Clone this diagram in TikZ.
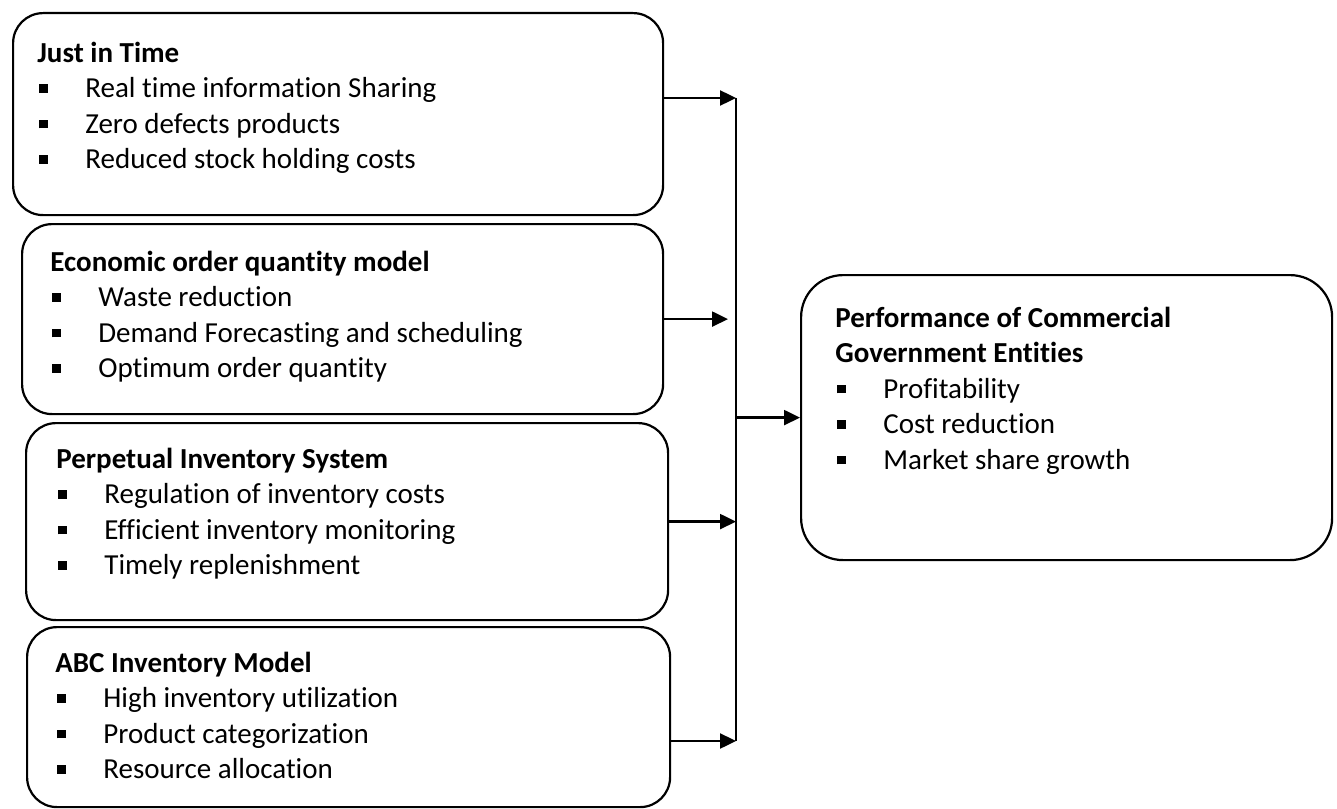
\documentclass[tikz,border=0pt]{standalone}
\usepackage{fontspec}
\setmainfont{Carlito}[Ligatures={NoCommon}]
\usetikzlibrary{arrows.meta, positioning}

% small square bullet with a fixed indent
\newcommand{\sqbullet}{\makebox[24pt][l]{\hspace{1pt}\rule[2.5pt]{4.25pt}{4.25pt}}}

\tikzset{
  box/.style={rectangle, rounded corners=15pt, draw=black, line width=1.1pt,
              anchor=north west, inner sep=0pt},
  boxtext/.style={anchor=north west, align=left, inner sep=0pt,
                  font=\fontsize{14.5pt}{17.75pt}\selectfont},
  arrow/.style={-{Triangle[length=8pt, width=7.5pt]}, line width=1.2pt},
}

\begin{document}
\begin{tikzpicture}[x=0.5pt, y=-0.5pt]
    \useasboundingbox (0,0) rectangle (1337,808);

    % factor boxes on the left
    \node[box, minimum width=325pt, minimum height=101pt] (jit) at (12,12) {};
    \node[box, minimum width=320.5pt, minimum height=95pt] (eoq) at (21,223) {};
    \node[box, minimum width=321pt, minimum height=98.5pt] (pis) at (25,422) {};
    \node[box, minimum width=321.5pt, minimum height=90pt] (abc) at (26,626) {};
    % outcome box
    \node[box, rounded corners=21pt, minimum width=265.5pt, minimum height=142.5pt] (perf) at (800,274) {};

    \node[boxtext] (jittxt) at ([xshift=12.5pt, yshift=-12.6pt]jit.north west)
          {\textbf{Just in Time}\strut\\
           \sqbullet Real time information Sharing\\
           \sqbullet Zero defects products\\
           \sqbullet Reduced stock holding costs};
    \node[boxtext] (eoqtxt) at ([xshift=14.5pt, yshift=-11.6pt]eoq.north west)
          {\textbf{Economic order quantity model}\strut\\
           \sqbullet Waste reduction\\
           \sqbullet Demand Forecasting and scheduling\\
           \sqbullet Optimum order quantity};
    \node[boxtext] (pistxt) at ([xshift=15.5pt, yshift=-10.6pt]pis.north west)
          {\textbf{Perpetual Inventory System}\strut\\
           \sqbullet Regulation of inventory costs\\
           \sqbullet Efficient inventory monitoring\\
           \sqbullet Timely replenishment};
    \node[boxtext] (abctxt) at ([xshift=14.5pt, yshift=-10.6pt]abc.north west)
          {\textbf{ABC Inventory Model}\strut\\
           \sqbullet High inventory utilization\\
           \sqbullet Product categorization\\
           \sqbullet Resource allocation};
    \node[boxtext] (perftxt) at ([xshift=17.5pt, yshift=-14.1pt]perf.north west)
          {\textbf{Performance of Commercial}\strut\\
           \textbf{Government Entities}\\
           \sqbullet Profitability\\
           \sqbullet Cost reduction\\
           \sqbullet Market share growth};

    % collecting bar
    \coordinate (bartop) at (736,98);
    \coordinate (barbot) at (736,741);
    \draw[line width=0.6pt] (bartop) -- (barbot);

    \draw[arrow] (jit.east |- bartop) -- (bartop);
    \draw[arrow] (eoq.east) -- ([xshift=-4pt]eoq.east -| bartop);
    \draw[arrow] (pis.east) -- (pis.east -| bartop);
    \draw[arrow] (abc.east |- barbot) -- (barbot);
    \draw[arrow] (perf.west -| bartop) -- (perf.west);
\end{tikzpicture}
\end{document}
